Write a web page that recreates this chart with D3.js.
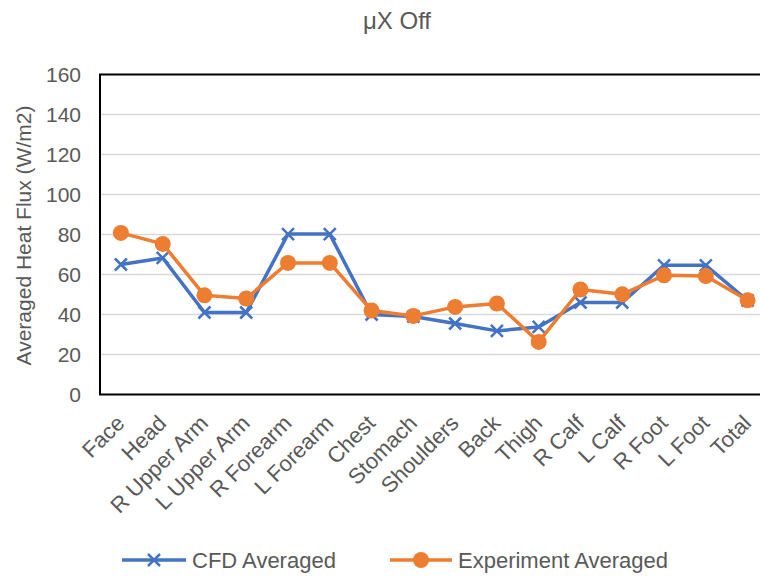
<!DOCTYPE html>
<html>
<head>
<meta charset="utf-8">
<script src="https://cdn.jsdelivr.net/npm/d3@7"></script>
<style>
  body { margin: 0; background: #fff; }
  text { font-family: "Liberation Sans", Arial, sans-serif; fill: #595959; }
</style>
</head>
<body>
<svg width="760" height="578"></svg>
<script>
const categories = ["Face", "Head", "R Upper Arm", "L Upper Arm", "R Forearm", "L Forearm",
    "Chest", "Stomach", "Shoulders", "Back", "Thigh", "R Calf", "L Calf", "R Foot", "L Foot", "Total"];
const cfdValues = [65, 68.3, 41, 41, 80.2, 80.2, 40, 39, 35.5, 31.8, 33.8, 46, 46, 64.6, 64.6, 47];
const expValues = [80.8, 75.3, 49.6, 48, 65.8, 65.8, 42, 39.3, 43.8, 45.5, 26.3, 52.5, 50.1, 59.6, 59.2, 47.1];
const yTicks = [0, 20, 40, 60, 80, 100, 120, 140, 160];

const series = [
    { name: "CFD Averaged", values: cfdValues, color: "#4472C4", marker: "x" },
    { name: "Experiment Averaged", values: expValues, color: "#ED7D31", marker: "circle" }
];

var svg = d3.select("svg");
var plotLeft = 100, plotTop = 74.5, plotBottom = 394.5;
var plotRight = plotLeft + categories.length * 41.78;

var x = d3.scaleBand().domain(categories).range([plotLeft, plotRight]);
var y = d3.scaleLinear().domain([0, 160]).range([plotBottom, plotTop]);

// title
svg.append("text")
    .attr("x", 397).attr("y", 29)
    .attr("text-anchor", "middle")
    .style("font-size", "24px")
    .text("\u03bcX Off");

// gridlines
svg.append("g")
    .selectAll("line")
    .data(yTicks.filter(t => t > 0 && t < 160))
    .enter().append("line")
    .attr("x1", plotLeft).attr("x2", plotRight)
    .attr("y1", d => y(d)).attr("y2", d => y(d))
    .attr("stroke", "#d9d9d9")
    .attr("stroke-width", 1.5);

// frame
svg.append("rect")
    .attr("x", plotLeft).attr("y", plotTop)
    .attr("width", plotRight - plotLeft).attr("height", plotBottom - plotTop)
    .attr("fill", "none")
    .attr("stroke", "#000")
    .attr("stroke-width", 2);

// y axis
var yAxis = svg.append("g")
    .attr("transform", `translate(${plotLeft},0)`)
    .call(d3.axisLeft(y).tickValues(yTicks).tickSize(0).tickPadding(19));
yAxis.select(".domain").remove();
yAxis.selectAll("text")
    .attr("fill", "#595959")
    .style("font-size", "21px")
    .style("font-family", "Liberation Sans, Arial, sans-serif");

svg.append("text")
    .attr("transform", `translate(31,${(plotTop + plotBottom) / 2 + 1}) rotate(-90)`)
    .attr("text-anchor", "middle")
    .style("font-size", "21px")
    .text("Averaged Heat Flux (W/m2)");

// x axis labels
var xAxis = svg.append("g")
    .attr("transform", `translate(0,${plotBottom})`)
    .call(d3.axisBottom(x).tickSize(0).tickPadding(0));
xAxis.select(".domain").remove();
xAxis.selectAll("text")
    .attr("fill", "#595959")
    .style("font-size", "22px")
    .style("font-family", "Liberation Sans, Arial, sans-serif")
    .attr("text-anchor", "end")
    .attr("dy", null)
    .attr("y", 0)
    .attr("transform", "translate(5,30) rotate(-45)");

// lines
var line = d3.line()
    .x((d, i) => x(categories[i]) + x.bandwidth() / 2)
    .y(d => y(d));

series.forEach(s => {
    svg.append("path")
        .datum(s.values)
        .attr("fill", "none")
        .attr("stroke", s.color)
        .attr("stroke-width", 3.5)
        .attr("stroke-linejoin", "round")
        .attr("d", line);

    var pts = svg.append("g").selectAll("g")
        .data(s.values)
        .enter().append("g")
        .attr("transform", (d, i) => `translate(${x(categories[i]) + x.bandwidth() / 2},${y(d)})`);
    if (s.marker === "circle") {
        pts.append("circle").attr("r", 8).attr("fill", s.color);
    } else {
        pts.append("path")
            .attr("d", "M-6,-6L6,6M-6,6L6,-6")
            .attr("stroke", s.color)
            .attr("stroke-width", 2.5);
    }
});

// legend
var legendItems = [
    { s: series[0], x1: 122, x2: 186, tx: 192 },
    { s: series[1], x1: 390, x2: 452, tx: 458 }
];
var lg = svg.append("g").selectAll("g")
    .data(legendItems)
    .enter().append("g");
lg.append("line")
    .attr("x1", d => d.x1).attr("x2", d => d.x2)
    .attr("y1", 560).attr("y2", 560)
    .attr("stroke", d => d.s.color)
    .attr("stroke-width", 3.5);
lg.each(function(d) {
    var g = d3.select(this);
    var cx = (d.x1 + d.x2) / 2;
    if (d.s.marker === "circle") {
        g.append("circle").attr("cx", cx).attr("cy", 560).attr("r", 8).attr("fill", d.s.color);
    } else {
        g.append("path")
            .attr("d", `M${cx - 6},554L${cx + 6},566M${cx - 6},566L${cx + 6},554`)
            .attr("stroke", d.s.color)
            .attr("stroke-width", 2.5);
    }
});
lg.append("text")
    .attr("x", d => d.tx).attr("y", 568)
    .style("font-size", "22px")
    .text(d => d.s.name);
</script>
</body>
</html>
